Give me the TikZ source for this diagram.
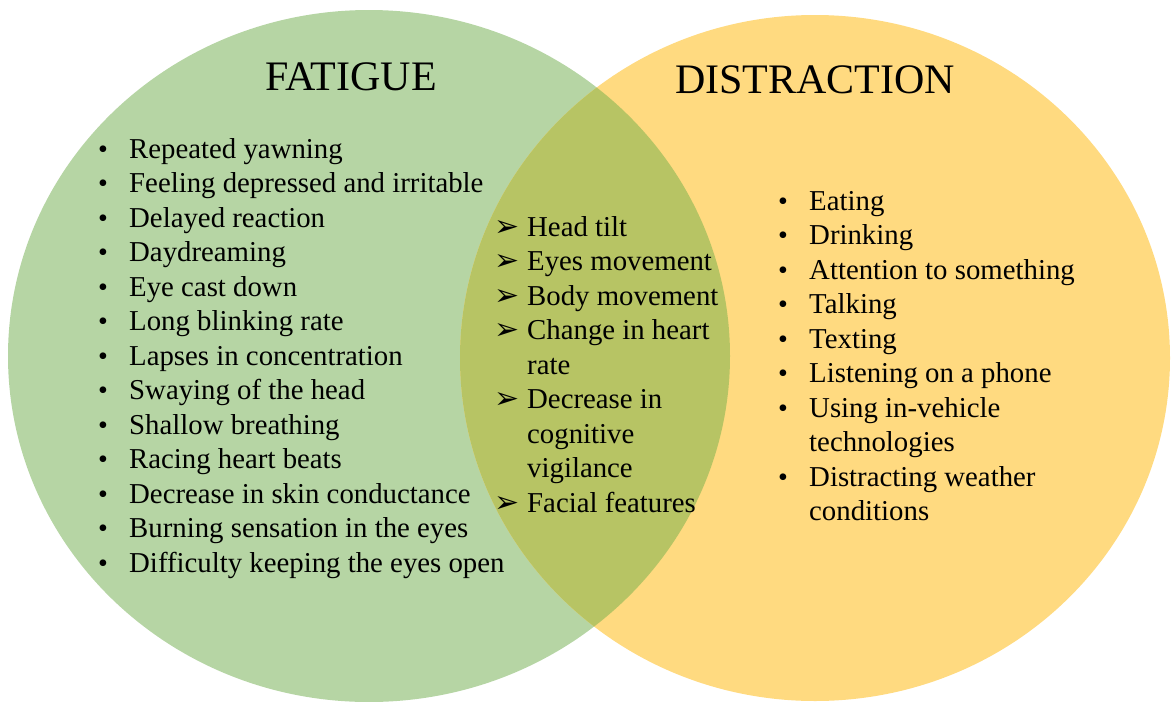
\documentclass[tikz,border=0pt]{standalone}
\usepackage{fontspec}
\setmainfont{Liberation Serif}
\newfontfamily\dejavu{DejaVu Sans}
\definecolor{fatgreen}{RGB}{182,213,164}
\definecolor{distyellow}{RGB}{255,218,128}
\definecolor{overlapcol}{RGB}{183,196,100}
\begin{document}
\begin{tikzpicture}[x=1pt,y=-1pt,
  item/.style={anchor=base west, inner sep=0pt, font=\fontsize{28.8}{34}\selectfont},
  bul/.style={anchor=base, inner sep=0pt, font=\fontsize{28}{34}\selectfont},
  arr/.style={anchor=base, inner sep=0pt, font=\dejavu\fontsize{30}{34}\selectfont},
  title/.style={anchor=base, inner sep=0pt, font=\fontsize{42}{48}\selectfont}]
\clip (0,0) rectangle (1171,702);
\fill[fatgreen] (369,356) ellipse [x radius=361, y radius=346];
\fill[distyellow] (815,358) ellipse [x radius=355, y radius=343];
\begin{scope}
  \clip (369,356) ellipse [x radius=361, y radius=346];
  \fill[overlapcol] (815,358) ellipse [x radius=355, y radius=343];
\end{scope}
\node[title] (tfat) at (351,90) {FATIGUE};
\node[title] (tdis) at (815,93) {DISTRACTION};
\foreach \t [count=\i] in {Repeated yawning, Feeling depressed and irritable, Delayed reaction, Daydreaming, Eye cast down, Long blinking rate, Lapses in concentration, Swaying of the head, Shallow breathing, Racing heart beats, Decrease in skin conductance, Burning sensation in the eyes, Difficulty keeping the eyes open}{
  \pgfmathsetmacro\yy{158+34.5*(\i-1)}
  \node[bul] (fb\i) at (103,\yy) {•};
  \node[item] (f\i) at (129,\yy) {\t};
}
\foreach \t/\b [count=\i] in {Head tilt/1, Eyes movement/1, Body movement/1, Change in heart/1, rate/0, Decrease in/1, cognitive/0, vigilance/0, Facial features/1}{
  \pgfmathsetmacro\yy{236+34.5*(\i-1)}
  \ifnum\b=1 \node[arr] (cb\i) at (507,\yy) {➢}; \fi
  \node[item] (c\i) at (527,\yy) {\t};
}
\foreach \t/\b [count=\i] in {Eating/1, Drinking/1, Attention to something/1, Talking/1, Texting/1, Listening on a phone/1, Using in-vehicle/1, technologies/0, Distracting weather/1, conditions/0}{
  \pgfmathsetmacro\yy{210+34.5*(\i-1)}
  \ifnum\b=1 \node[bul] (db\i) at (783,\yy) {•}; \fi
  \node[item] (d\i) at (809,\yy) {\t};
}
\end{tikzpicture}
\end{document}
